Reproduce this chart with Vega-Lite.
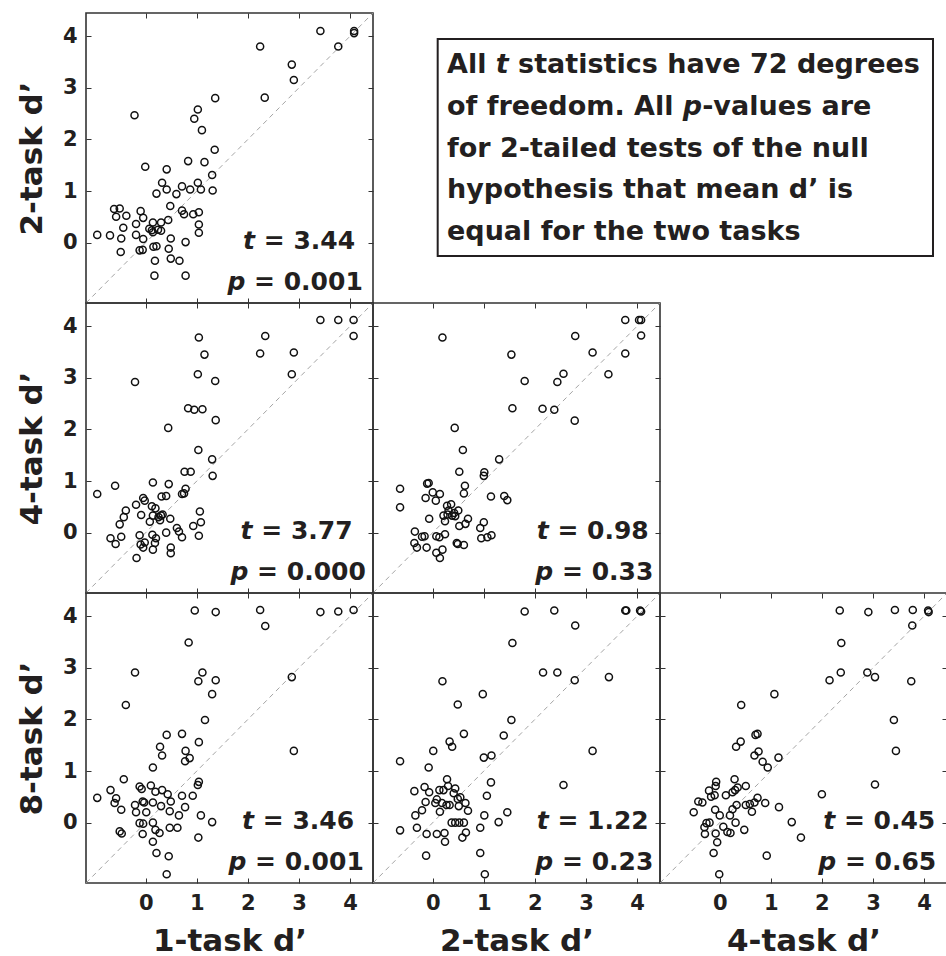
{
"$schema": "https://vega.github.io/schema/vega-lite/v6.json",
"background": "white",
"padding": {"left": 15, "top": 10, "right": 0, "bottom": 0},
"spacing": 0,
"columns": 3,
"bounds": "flush",
"config": {"view": {"stroke": "#333333", "strokeWidth": 1.6}, "concat": {"spacing": 0}},
"datasets": {
"diag": [{"v": -1.17}, {"v": 4.45}],
"p12": [{"x":3.42,"y":4.10},{"x":4.08,"y":4.10},{"x":4.08,"y":4.06},{"x":2.24,"y":3.80},{"x":3.77,"y":3.80},{"x":2.86,"y":3.45},{"x":2.90,"y":3.15},{"x":2.33,"y":2.81},{"x":1.36,"y":2.80},{"x":-0.22,"y":2.47},{"x":1.02,"y":2.58},{"x":0.95,"y":2.40},{"x":1.10,"y":2.18},{"x":1.35,"y":1.80},{"x":-0.01,"y":1.47},{"x":0.41,"y":1.42},{"x":0.83,"y":1.58},{"x":1.15,"y":1.56},{"x":1.30,"y":1.31},{"x":0.32,"y":1.16},{"x":0.71,"y":1.09},{"x":1.02,"y":1.16},{"x":0.21,"y":0.95},{"x":0.41,"y":1.03},{"x":0.60,"y":0.94},{"x":0.87,"y":1.03},{"x":1.08,"y":1.03},{"x":1.31,"y":1.01},{"x":0.48,"y":0.71},{"x":0.71,"y":0.62},{"x":0.75,"y":0.55},{"x":0.93,"y":0.55},{"x":1.04,"y":0.59},{"x":1.04,"y":0.35},{"x":1.04,"y":0.19},{"x":-0.62,"y":0.65},{"x":-0.51,"y":0.66},{"x":-0.58,"y":0.50},{"x":-0.38,"y":0.52},{"x":-0.44,"y":0.29},{"x":-0.95,"y":0.15},{"x":-0.70,"y":0.14},{"x":-0.48,"y":0.08},{"x":-0.49,"y":-0.18},{"x":-0.19,"y":0.36},{"x":-0.10,"y":0.61},{"x":-0.05,"y":0.48},{"x":-0.19,"y":0.15},{"x":-0.05,"y":0.07},{"x":-0.12,"y":-0.15},{"x":-0.06,"y":-0.14},{"x":0.14,"y":0.39},{"x":0.07,"y":0.27},{"x":0.12,"y":0.24},{"x":0.30,"y":0.39},{"x":0.30,"y":0.23},{"x":0.14,"y":0.20},{"x":0.44,"y":0.44},{"x":0.49,"y":0.08},{"x":0.15,"y":-0.08},{"x":0.21,"y":-0.07},{"x":0.45,"y":-0.12},{"x":0.18,"y":-0.35},{"x":0.49,"y":-0.31},{"x":0.66,"y":-0.35},{"x":0.78,"y":0.01},{"x":0.17,"y":-0.64},{"x":0.78,"y":-0.64},{"x":0.24,"y":0.25}],
"p14": [{"x":3.42,"y":4.12},{"x":3.77,"y":4.12},{"x":4.07,"y":4.12},{"x":4.07,"y":3.81},{"x":2.34,"y":3.81},{"x":2.24,"y":3.47},{"x":2.90,"y":3.49},{"x":2.86,"y":3.07},{"x":1.04,"y":3.78},{"x":1.15,"y":3.45},{"x":1.02,"y":3.07},{"x":1.36,"y":2.94},{"x":-0.21,"y":2.92},{"x":0.83,"y":2.41},{"x":0.95,"y":2.38},{"x":1.11,"y":2.39},{"x":1.37,"y":2.18},{"x":0.44,"y":2.03},{"x":1.03,"y":1.60},{"x":1.30,"y":1.42},{"x":1.31,"y":1.10},{"x":0.76,"y":1.18},{"x":0.88,"y":1.18},{"x":-0.95,"y":0.75},{"x":-0.60,"y":0.91},{"x":0.14,"y":0.97},{"x":0.45,"y":0.94},{"x":0.78,"y":0.85},{"x":0.75,"y":0.76},{"x":0.71,"y":0.75},{"x":0.31,"y":0.70},{"x":0.40,"y":0.71},{"x":-0.05,"y":0.67},{"x":-0.02,"y":0.62},{"x":-0.19,"y":0.54},{"x":-0.39,"y":0.43},{"x":-0.43,"y":0.30},{"x":-0.51,"y":0.16},{"x":-0.69,"y":-0.11},{"x":-0.59,"y":-0.22},{"x":-0.48,"y":-0.08},{"x":-0.09,"y":0.34},{"x":0.12,"y":0.51},{"x":0.19,"y":0.47},{"x":0.14,"y":0.33},{"x":0.25,"y":0.30},{"x":0.30,"y":0.33},{"x":0.08,"y":0.21},{"x":0.28,"y":0.24},{"x":0.48,"y":0.27},{"x":-0.12,"y":-0.05},{"x":-0.10,"y":-0.23},{"x":-0.05,"y":-0.29},{"x":-0.02,"y":-0.19},{"x":-0.18,"y":-0.49},{"x":0.13,"y":-0.04},{"x":0.20,"y":-0.11},{"x":0.18,"y":-0.20},{"x":0.14,"y":-0.33},{"x":0.40,"y":0.00},{"x":0.49,"y":-0.29},{"x":0.49,"y":-0.40},{"x":0.61,"y":0.09},{"x":0.65,"y":0.02},{"x":0.71,"y":-0.09},{"x":0.93,"y":0.13},{"x":1.08,"y":0.20},{"x":1.06,"y":0.41},{"x":1.04,"y":-0.06},{"x":0.33,"y":0.35}],
"p18": [{"x":0.96,"y":4.11},{"x":1.37,"y":4.08},{"x":2.24,"y":4.12},{"x":3.42,"y":4.08},{"x":3.77,"y":4.09},{"x":4.07,"y":4.12},{"x":2.34,"y":3.81},{"x":0.84,"y":3.49},{"x":-0.21,"y":2.91},{"x":1.11,"y":2.91},{"x":1.03,"y":2.74},{"x":1.37,"y":2.76},{"x":1.30,"y":2.49},{"x":2.86,"y":2.82},{"x":-0.39,"y":2.28},{"x":1.16,"y":1.99},{"x":0.41,"y":1.70},{"x":0.71,"y":1.72},{"x":0.28,"y":1.47},{"x":0.32,"y":1.30},{"x":0.78,"y":1.39},{"x":0.77,"y":1.19},{"x":0.86,"y":1.25},{"x":1.04,"y":1.56},{"x":2.90,"y":1.39},{"x":0.14,"y":1.07},{"x":-0.43,"y":0.84},{"x":-0.95,"y":0.48},{"x":-0.69,"y":0.63},{"x":-0.58,"y":0.47},{"x":-0.61,"y":0.38},{"x":-0.48,"y":0.25},{"x":-0.12,"y":0.70},{"x":-0.08,"y":0.65},{"x":0.10,"y":0.72},{"x":-0.06,"y":0.41},{"x":-0.03,"y":0.39},{"x":-0.21,"y":0.34},{"x":-0.19,"y":0.20},{"x":0.01,"y":0.20},{"x":0.14,"y":0.39},{"x":0.19,"y":0.60},{"x":0.32,"y":0.63},{"x":0.43,"y":0.55},{"x":0.49,"y":0.41},{"x":0.30,"y":0.32},{"x":0.47,"y":0.22},{"x":0.71,"y":0.52},{"x":0.77,"y":0.30},{"x":0.92,"y":0.52},{"x":1.02,"y":0.73},{"x":1.04,"y":0.79},{"x":0.65,"y":0.14},{"x":1.08,"y":0.14},{"x":1.30,"y":0.01},{"x":-0.12,"y":-0.01},{"x":-0.05,"y":-0.02},{"x":0.14,"y":0.00},{"x":0.19,"y":-0.14},{"x":0.27,"y":-0.20},{"x":0.47,"y":-0.10},{"x":0.62,"y":-0.10},{"x":-0.51,"y":-0.17},{"x":-0.47,"y":-0.21},{"x":-0.06,"y":-0.22},{"x":0.14,"y":-0.37},{"x":1.03,"y":-0.29},{"x":0.21,"y":-0.59},{"x":0.45,"y":-0.65},{"x":0.41,"y":-1.00}],
"p24": [{"x":3.77,"y":4.12},{"x":4.04,"y":4.12},{"x":4.08,"y":4.12},{"x":4.08,"y":3.82},{"x":2.79,"y":3.81},{"x":0.19,"y":3.78},{"x":1.54,"y":3.45},{"x":3.13,"y":3.49},{"x":3.77,"y":3.47},{"x":2.56,"y":3.08},{"x":2.44,"y":2.92},{"x":3.44,"y":3.07},{"x":1.80,"y":2.94},{"x":1.56,"y":2.41},{"x":2.15,"y":2.40},{"x":2.38,"y":2.38},{"x":2.78,"y":2.17},{"x":0.43,"y":2.03},{"x":0.59,"y":1.60},{"x":1.30,"y":1.42},{"x":0.52,"y":1.18},{"x":1.01,"y":1.17},{"x":1.00,"y":1.10},{"x":-0.64,"y":0.85},{"x":-0.64,"y":0.49},{"x":-0.11,"y":0.95},{"x":-0.08,"y":0.96},{"x":0.00,"y":0.78},{"x":0.14,"y":0.75},{"x":-0.14,"y":0.67},{"x":0.06,"y":0.62},{"x":0.63,"y":0.91},{"x":0.61,"y":0.76},{"x":1.14,"y":0.70},{"x":1.40,"y":0.71},{"x":1.46,"y":0.63},{"x":0.28,"y":0.52},{"x":0.36,"y":0.55},{"x":0.50,"y":0.43},{"x":0.21,"y":0.33},{"x":0.29,"y":0.35},{"x":0.38,"y":0.33},{"x":0.42,"y":0.38},{"x":0.24,"y":0.22},{"x":-0.07,"y":0.27},{"x":0.52,"y":0.13},{"x":0.64,"y":0.17},{"x":0.69,"y":0.27},{"x":1.00,"y":0.20},{"x":0.93,"y":0.09},{"x":0.95,"y":-0.11},{"x":1.07,"y":-0.09},{"x":1.15,"y":-0.05},{"x":-0.35,"y":0.02},{"x":-0.16,"y":-0.07},{"x":-0.21,"y":-0.08},{"x":-0.36,"y":-0.20},{"x":-0.31,"y":-0.29},{"x":-0.12,"y":-0.29},{"x":0.07,"y":-0.07},{"x":0.13,"y":-0.09},{"x":0.24,"y":-0.03},{"x":0.47,"y":-0.20},{"x":0.49,"y":-0.22},{"x":0.61,"y":-0.24},{"x":0.07,"y":-0.39},{"x":0.19,"y":-0.33},{"x":0.14,"y":-0.49},{"x":0.31,"y":0.43},{"x":0.44,"y":0.32}],
"p28": [{"x":1.80,"y":4.09},{"x":2.38,"y":4.11},{"x":3.77,"y":4.11},{"x":3.79,"y":4.11},{"x":4.06,"y":4.11},{"x":4.08,"y":4.09},{"x":2.79,"y":3.82},{"x":1.56,"y":3.48},{"x":2.16,"y":2.91},{"x":2.44,"y":2.91},{"x":2.78,"y":2.76},{"x":3.45,"y":2.82},{"x":0.19,"y":2.74},{"x":0.98,"y":2.49},{"x":0.49,"y":2.29},{"x":1.54,"y":1.99},{"x":0.61,"y":1.72},{"x":1.39,"y":1.69},{"x":0.33,"y":1.57},{"x":0.38,"y":1.47},{"x":0.01,"y":1.39},{"x":3.13,"y":1.39},{"x":1.00,"y":1.26},{"x":1.15,"y":1.30},{"x":-0.64,"y":1.19},{"x":-0.08,"y":1.07},{"x":1.14,"y":0.78},{"x":2.56,"y":0.73},{"x":0.28,"y":0.84},{"x":-0.16,"y":0.69},{"x":-0.36,"y":0.61},{"x":-0.07,"y":0.59},{"x":0.13,"y":0.63},{"x":0.21,"y":0.63},{"x":0.30,"y":0.71},{"x":0.44,"y":0.66},{"x":0.41,"y":0.57},{"x":0.54,"y":0.49},{"x":1.06,"y":0.52},{"x":-0.14,"y":0.40},{"x":0.05,"y":0.38},{"x":0.08,"y":0.45},{"x":0.18,"y":0.38},{"x":0.27,"y":0.34},{"x":0.33,"y":0.34},{"x":0.64,"y":0.38},{"x":0.49,"y":0.46},{"x":0.69,"y":0.23},{"x":0.51,"y":0.32},{"x":-0.21,"y":0.24},{"x":-0.34,"y":0.14},{"x":0.14,"y":0.21},{"x":1.01,"y":0.14},{"x":1.46,"y":0.20},{"x":1.29,"y":0.01},{"x":0.37,"y":0.00},{"x":0.44,"y":0.00},{"x":0.52,"y":0.00},{"x":0.61,"y":0.00},{"x":0.93,"y":-0.10},{"x":-0.64,"y":-0.15},{"x":-0.31,"y":-0.10},{"x":-0.12,"y":-0.22},{"x":0.08,"y":-0.22},{"x":0.23,"y":-0.20},{"x":0.24,"y":-0.37},{"x":0.58,"y":-0.29},{"x":0.65,"y":-0.19},{"x":-0.13,"y":-0.64},{"x":0.93,"y":-0.59},{"x":1.02,"y":-1.00}],
"p48": [{"x":2.35,"y":4.11},{"x":2.91,"y":4.08},{"x":3.43,"y":4.12},{"x":3.78,"y":4.12},{"x":4.08,"y":4.11},{"x":4.09,"y":4.08},{"x":3.77,"y":3.82},{"x":2.38,"y":3.48},{"x":2.37,"y":2.91},{"x":2.89,"y":2.91},{"x":3.04,"y":2.82},{"x":2.15,"y":2.76},{"x":3.75,"y":2.74},{"x":1.07,"y":2.49},{"x":0.42,"y":2.28},{"x":3.41,"y":1.99},{"x":3.45,"y":1.39},{"x":3.04,"y":0.74},{"x":2.00,"y":0.55},{"x":0.70,"y":1.70},{"x":0.74,"y":1.72},{"x":0.41,"y":1.57},{"x":0.32,"y":1.47},{"x":0.76,"y":1.38},{"x":0.68,"y":1.30},{"x":0.84,"y":1.18},{"x":0.94,"y":1.07},{"x":1.15,"y":1.26},{"x":-0.07,"y":0.79},{"x":-0.08,"y":0.71},{"x":-0.21,"y":0.62},{"x":-0.10,"y":0.53},{"x":-0.17,"y":0.50},{"x":-0.42,"y":0.41},{"x":-0.34,"y":0.39},{"x":-0.51,"y":0.20},{"x":-0.09,"y":0.25},{"x":0.00,"y":0.14},{"x":0.12,"y":0.53},{"x":0.29,"y":0.84},{"x":0.25,"y":0.59},{"x":0.30,"y":0.63},{"x":0.35,"y":0.68},{"x":0.51,"y":0.71},{"x":0.25,"y":0.26},{"x":0.33,"y":0.34},{"x":0.20,"y":0.14},{"x":0.51,"y":0.34},{"x":0.59,"y":0.36},{"x":0.68,"y":0.39},{"x":0.74,"y":0.48},{"x":0.63,"y":0.21},{"x":0.89,"y":0.38},{"x":1.16,"y":0.30},{"x":1.41,"y":0.01},{"x":1.59,"y":-0.29},{"x":-0.30,"y":-0.09},{"x":-0.26,"y":-0.01},{"x":-0.20,"y":0.00},{"x":-0.29,"y":-0.22},{"x":-0.08,"y":-0.21},{"x":0.07,"y":-0.08},{"x":0.15,"y":-0.18},{"x":0.21,"y":-0.20},{"x":0.31,"y":0.00},{"x":0.48,"y":-0.14},{"x":-0.05,"y":-0.38},{"x":-0.12,"y":-0.59},{"x":0.92,"y":-0.64},{"x":-0.01,"y":-1.00}],
"s12": [{"sym":"t","val":"= 3.44","xs":2.14,"xv":4.10,"y":-0.13},{"sym":"p","val":"= 0.001","xs":1.95,"xv":4.25,"y":-0.92}],
"s14": [{"sym":"t","val":"= 3.77","xs":2.09,"xv":4.05,"y":-0.12},{"sym":"p","val":"= 0.000","xs":2.01,"xv":4.31,"y":-0.91}],
"s18": [{"sym":"t","val":"= 3.46","xs":2.12,"xv":4.08,"y":-0.12},{"sym":"p","val":"= 0.001","xs":1.97,"xv":4.27,"y":-0.91}],
"s24": [{"sym":"t","val":"= 0.98","xs":2.27,"xv":4.23,"y":-0.12},{"sym":"p","val":"= 0.33","xs":2.36,"xv":4.32,"y":-0.91}],
"s28": [{"sym":"t","val":"= 1.22","xs":2.27,"xv":4.23,"y":-0.12},{"sym":"p","val":"= 0.23","xs":2.36,"xv":4.32,"y":-0.91}],
"s48": [{"sym":"t","val":"= 0.45","xs":2.26,"xv":4.22,"y":-0.12},{"sym":"p","val":"= 0.65","xs":2.28,"xv":4.24,"y":-0.91}],
"box": [{"x1":11.27,"x2":97.56,"y1":91.0,"y2":16.2}],
"boxtext": [{"txt":"All","x":12.89,"y":79.3},{"txt":"statistics have 72 degrees","x":25.28,"y":79.3},{"txt":"of freedom. All","x":12.89,"y":64.8},{"txt":"-values are","x":57.34,"y":64.8},{"txt":"for 2-tailed tests of the null","x":12.89,"y":50.3},{"txt":"hypothesis that mean d’ is","x":12.89,"y":36.2},{"txt":"equal for the two tasks","x":12.89,"y":21.7}],
"boxital": [{"txt":"t","x":21.39,"y":79.3},{"txt":"p","x":53.97,"y":64.8}],
"none": []
},
"concat": [
 {"width": 287, "height": 290, "resolve": {"axis": {"x": "independent", "y": "independent"}},
  "layer": [
   {"data": {"name": "diag"}, "mark": {"type": "line", "color": "#9a9a9a", "strokeDash": [5, 4], "strokeWidth": 0.9},
    "encoding": {"x": {"field": "v", "type": "quantitative", "scale": {"domain": [-1.17, 4.45], "nice": false, "zero": false}, "axis": {"orient": "bottom", "values": [0,1,2,3,4], "grid": false, "domain": false, "tickSize": -5, "tickColor": "#333333", "labels": false, "title": null, "minExtent": 0, "maxExtent": 0}},
                 "y": {"field": "v", "type": "quantitative", "scale": {"domain": [-1.17, 4.45], "nice": false, "zero": false}, "axis": {"orient": "left", "values": [0,1,2,3,4], "format": "d", "grid": false, "domain": false, "tickSize": -5, "tickColor": "#333333", "labelFont": "DejaVu Sans", "labelFontWeight": "bold", "labelFontSize": 21, "labelColor": "#231f20", "labelPadding": 14, "labelFlush": false, "labelOverlap": false, "title": "2-task d’", "titleFont": "DejaVu Sans", "titleFontWeight": "bold", "titleFontSize": 31, "titleColor": "#231f20", "titlePadding": 14}}}},
   {"data": {"name": "p12"}, "mark": {"type": "point", "shape": "circle", "filled": false, "color": "#111111", "size": 50, "strokeWidth": 1.5, "opacity": 1},
    "encoding": {"x": {"field": "x", "type": "quantitative", "scale": {"domain": [-1.17, 4.45], "nice": false, "zero": false}, "axis": {"orient": "top", "values": [0,1,2,3,4], "grid": false, "domain": false, "tickSize": -5, "tickColor": "#333333", "labels": false, "title": null, "minExtent": 0, "maxExtent": 0}},
                 "y": {"field": "y", "type": "quantitative", "scale": {"domain": [-1.17, 4.45], "nice": false, "zero": false}, "axis": {"orient": "right", "values": [0,1,2,3,4], "grid": false, "domain": false, "tickSize": -5, "tickColor": "#333333", "labels": false, "title": null, "minExtent": 0, "maxExtent": 0}}}},
   {"data": {"name": "s12"}, "mark": {"type": "text", "align": "right", "baseline": "alphabetic", "font": "DejaVu Sans", "fontWeight": "bold", "fontStyle": "italic", "fontSize": 25, "color": "#231f20"},
    "encoding": {"x": {"field": "xs", "type": "quantitative", "axis": null}, "y": {"field": "y", "type": "quantitative", "axis": null}, "text": {"field": "sym"}}},
   {"data": {"name": "s12"}, "mark": {"type": "text", "align": "right", "baseline": "alphabetic", "font": "DejaVu Sans", "fontWeight": "bold", "fontSize": 25, "color": "#231f20"},
    "encoding": {"x": {"field": "xv", "type": "quantitative", "axis": null}, "y": {"field": "y", "type": "quantitative", "axis": null}, "text": {"field": "val"}}}
  ]},
 {"width": 287, "height": 290, "view": {"stroke": null},
  "layer": [
   {"data": {"name": "box"}, "mark": {"type": "rect", "fill": "white", "stroke": "#231f20", "strokeWidth": 2, "clip": false},
    "encoding": {"x": {"field": "x1", "type": "quantitative", "scale": {"domain": [0, 50], "nice": false, "zero": false}, "axis": null}, "x2": {"field": "x2"},
                 "y": {"field": "y1", "type": "quantitative", "scale": {"domain": [0, 100], "nice": false, "zero": false}, "axis": null}, "y2": {"field": "y2"}}},
   {"data": {"name": "boxtext"}, "mark": {"type": "text", "align": "left", "baseline": "alphabetic", "font": "DejaVu Sans", "fontWeight": "bold", "fontSize": 27, "color": "#231f20", "clip": false},
    "encoding": {"x": {"field": "x", "type": "quantitative", "axis": null}, "y": {"field": "y", "type": "quantitative", "axis": null}, "text": {"field": "txt"}}},
   {"data": {"name": "boxital"}, "mark": {"type": "text", "align": "left", "baseline": "alphabetic", "font": "DejaVu Sans", "fontWeight": "bold", "fontStyle": "italic", "fontSize": 27, "color": "#231f20", "clip": false},
    "encoding": {"x": {"field": "x", "type": "quantitative", "axis": null}, "y": {"field": "y", "type": "quantitative", "axis": null}, "text": {"field": "txt"}}}
  ]},
 {"width": 287, "height": 290, "view": {"stroke": null}, "data": {"name": "none"}, "mark": {"type": "text"}, "encoding": {}},
 {"width": 287, "height": 290, "resolve": {"axis": {"x": "independent", "y": "independent"}},
  "layer": [
   {"data": {"name": "diag"}, "mark": {"type": "line", "color": "#9a9a9a", "strokeDash": [5, 4], "strokeWidth": 0.9},
    "encoding": {"x": {"field": "v", "type": "quantitative", "scale": {"domain": [-1.17, 4.45], "nice": false, "zero": false}, "axis": {"orient": "bottom", "values": [0,1,2,3,4], "grid": false, "domain": false, "tickSize": -5, "tickColor": "#333333", "labels": false, "title": null, "minExtent": 0, "maxExtent": 0}},
                 "y": {"field": "v", "type": "quantitative", "scale": {"domain": [-1.17, 4.45], "nice": false, "zero": false}, "axis": {"orient": "left", "values": [0,1,2,3,4], "format": "d", "grid": false, "domain": false, "tickSize": -5, "tickColor": "#333333", "labelFont": "DejaVu Sans", "labelFontWeight": "bold", "labelFontSize": 21, "labelColor": "#231f20", "labelPadding": 14, "labelFlush": false, "labelOverlap": false, "title": "4-task d’", "titleFont": "DejaVu Sans", "titleFontWeight": "bold", "titleFontSize": 31, "titleColor": "#231f20", "titlePadding": 14}}}},
   {"data": {"name": "p14"}, "mark": {"type": "point", "shape": "circle", "filled": false, "color": "#111111", "size": 50, "strokeWidth": 1.5, "opacity": 1},
    "encoding": {"x": {"field": "x", "type": "quantitative", "scale": {"domain": [-1.17, 4.45], "nice": false, "zero": false}, "axis": {"orient": "top", "values": [0,1,2,3,4], "grid": false, "domain": false, "tickSize": -5, "tickColor": "#333333", "labels": false, "title": null, "minExtent": 0, "maxExtent": 0}},
                 "y": {"field": "y", "type": "quantitative", "scale": {"domain": [-1.17, 4.45], "nice": false, "zero": false}, "axis": {"orient": "right", "values": [0,1,2,3,4], "grid": false, "domain": false, "tickSize": -5, "tickColor": "#333333", "labels": false, "title": null, "minExtent": 0, "maxExtent": 0}}}},
   {"data": {"name": "s14"}, "mark": {"type": "text", "align": "right", "baseline": "alphabetic", "font": "DejaVu Sans", "fontWeight": "bold", "fontStyle": "italic", "fontSize": 25, "color": "#231f20"},
    "encoding": {"x": {"field": "xs", "type": "quantitative", "axis": null}, "y": {"field": "y", "type": "quantitative", "axis": null}, "text": {"field": "sym"}}},
   {"data": {"name": "s14"}, "mark": {"type": "text", "align": "right", "baseline": "alphabetic", "font": "DejaVu Sans", "fontWeight": "bold", "fontSize": 25, "color": "#231f20"},
    "encoding": {"x": {"field": "xv", "type": "quantitative", "axis": null}, "y": {"field": "y", "type": "quantitative", "axis": null}, "text": {"field": "val"}}}
  ]},
 {"width": 287, "height": 290, "resolve": {"axis": {"x": "independent", "y": "independent"}},
  "layer": [
   {"data": {"name": "diag"}, "mark": {"type": "line", "color": "#9a9a9a", "strokeDash": [5, 4], "strokeWidth": 0.9},
    "encoding": {"x": {"field": "v", "type": "quantitative", "scale": {"domain": [-1.17, 4.45], "nice": false, "zero": false}, "axis": {"orient": "bottom", "values": [0,1,2,3,4], "grid": false, "domain": false, "tickSize": -5, "tickColor": "#333333", "labels": false, "title": null, "minExtent": 0, "maxExtent": 0}},
                 "y": {"field": "v", "type": "quantitative", "scale": {"domain": [-1.17, 4.45], "nice": false, "zero": false}, "axis": {"orient": "left", "values": [0,1,2,3,4], "grid": false, "domain": false, "tickSize": -5, "tickColor": "#333333", "labels": false, "title": null, "minExtent": 0, "maxExtent": 0}}}},
   {"data": {"name": "p24"}, "mark": {"type": "point", "shape": "circle", "filled": false, "color": "#111111", "size": 50, "strokeWidth": 1.5, "opacity": 1},
    "encoding": {"x": {"field": "x", "type": "quantitative", "scale": {"domain": [-1.17, 4.45], "nice": false, "zero": false}, "axis": {"orient": "top", "values": [0,1,2,3,4], "grid": false, "domain": false, "tickSize": -5, "tickColor": "#333333", "labels": false, "title": null, "minExtent": 0, "maxExtent": 0}},
                 "y": {"field": "y", "type": "quantitative", "scale": {"domain": [-1.17, 4.45], "nice": false, "zero": false}, "axis": {"orient": "right", "values": [0,1,2,3,4], "grid": false, "domain": false, "tickSize": -5, "tickColor": "#333333", "labels": false, "title": null, "minExtent": 0, "maxExtent": 0}}}},
   {"data": {"name": "s24"}, "mark": {"type": "text", "align": "right", "baseline": "alphabetic", "font": "DejaVu Sans", "fontWeight": "bold", "fontStyle": "italic", "fontSize": 25, "color": "#231f20"},
    "encoding": {"x": {"field": "xs", "type": "quantitative", "axis": null}, "y": {"field": "y", "type": "quantitative", "axis": null}, "text": {"field": "sym"}}},
   {"data": {"name": "s24"}, "mark": {"type": "text", "align": "right", "baseline": "alphabetic", "font": "DejaVu Sans", "fontWeight": "bold", "fontSize": 25, "color": "#231f20"},
    "encoding": {"x": {"field": "xv", "type": "quantitative", "axis": null}, "y": {"field": "y", "type": "quantitative", "axis": null}, "text": {"field": "val"}}}
  ]},
 {"width": 287, "height": 290, "view": {"stroke": null}, "data": {"name": "none"}, "mark": {"type": "text"}, "encoding": {}},
 {"width": 287, "height": 290, "resolve": {"axis": {"x": "independent", "y": "independent"}},
  "layer": [
   {"data": {"name": "diag"}, "mark": {"type": "line", "color": "#9a9a9a", "strokeDash": [5, 4], "strokeWidth": 0.9},
    "encoding": {"x": {"field": "v", "type": "quantitative", "scale": {"domain": [-1.17, 4.45], "nice": false, "zero": false}, "axis": {"orient": "bottom", "values": [0,1,2,3,4], "format": "d", "grid": false, "domain": false, "tickSize": -5, "tickColor": "#333333", "labelFont": "DejaVu Sans", "labelFontWeight": "bold", "labelFontSize": 21, "labelColor": "#231f20", "labelPadding": 14, "labelFlush": false, "labelOverlap": false, "title": "1-task d’", "titleFont": "DejaVu Sans", "titleFontWeight": "bold", "titleFontSize": 31, "titleColor": "#231f20", "titlePadding": 13}},
                 "y": {"field": "v", "type": "quantitative", "scale": {"domain": [-1.17, 4.45], "nice": false, "zero": false}, "axis": {"orient": "left", "values": [0,1,2,3,4], "format": "d", "grid": false, "domain": false, "tickSize": -5, "tickColor": "#333333", "labelFont": "DejaVu Sans", "labelFontWeight": "bold", "labelFontSize": 21, "labelColor": "#231f20", "labelPadding": 14, "labelFlush": false, "labelOverlap": false, "title": "8-task d’", "titleFont": "DejaVu Sans", "titleFontWeight": "bold", "titleFontSize": 31, "titleColor": "#231f20", "titlePadding": 14}}}},
   {"data": {"name": "p18"}, "mark": {"type": "point", "shape": "circle", "filled": false, "color": "#111111", "size": 50, "strokeWidth": 1.5, "opacity": 1},
    "encoding": {"x": {"field": "x", "type": "quantitative", "scale": {"domain": [-1.17, 4.45], "nice": false, "zero": false}, "axis": {"orient": "top", "values": [0,1,2,3,4], "grid": false, "domain": false, "tickSize": -5, "tickColor": "#333333", "labels": false, "title": null, "minExtent": 0, "maxExtent": 0}},
                 "y": {"field": "y", "type": "quantitative", "scale": {"domain": [-1.17, 4.45], "nice": false, "zero": false}, "axis": {"orient": "right", "values": [0,1,2,3,4], "grid": false, "domain": false, "tickSize": -5, "tickColor": "#333333", "labels": false, "title": null, "minExtent": 0, "maxExtent": 0}}}},
   {"data": {"name": "s18"}, "mark": {"type": "text", "align": "right", "baseline": "alphabetic", "font": "DejaVu Sans", "fontWeight": "bold", "fontStyle": "italic", "fontSize": 25, "color": "#231f20"},
    "encoding": {"x": {"field": "xs", "type": "quantitative", "axis": null}, "y": {"field": "y", "type": "quantitative", "axis": null}, "text": {"field": "sym"}}},
   {"data": {"name": "s18"}, "mark": {"type": "text", "align": "right", "baseline": "alphabetic", "font": "DejaVu Sans", "fontWeight": "bold", "fontSize": 25, "color": "#231f20"},
    "encoding": {"x": {"field": "xv", "type": "quantitative", "axis": null}, "y": {"field": "y", "type": "quantitative", "axis": null}, "text": {"field": "val"}}}
  ]},
 {"width": 287, "height": 290, "resolve": {"axis": {"x": "independent", "y": "independent"}},
  "layer": [
   {"data": {"name": "diag"}, "mark": {"type": "line", "color": "#9a9a9a", "strokeDash": [5, 4], "strokeWidth": 0.9},
    "encoding": {"x": {"field": "v", "type": "quantitative", "scale": {"domain": [-1.17, 4.45], "nice": false, "zero": false}, "axis": {"orient": "bottom", "values": [0,1,2,3,4], "format": "d", "grid": false, "domain": false, "tickSize": -5, "tickColor": "#333333", "labelFont": "DejaVu Sans", "labelFontWeight": "bold", "labelFontSize": 21, "labelColor": "#231f20", "labelPadding": 14, "labelFlush": false, "labelOverlap": false, "title": "2-task d’", "titleFont": "DejaVu Sans", "titleFontWeight": "bold", "titleFontSize": 31, "titleColor": "#231f20", "titlePadding": 13}},
                 "y": {"field": "v", "type": "quantitative", "scale": {"domain": [-1.17, 4.45], "nice": false, "zero": false}, "axis": {"orient": "left", "values": [0,1,2,3,4], "grid": false, "domain": false, "tickSize": -5, "tickColor": "#333333", "labels": false, "title": null, "minExtent": 0, "maxExtent": 0}}}},
   {"data": {"name": "p28"}, "mark": {"type": "point", "shape": "circle", "filled": false, "color": "#111111", "size": 50, "strokeWidth": 1.5, "opacity": 1},
    "encoding": {"x": {"field": "x", "type": "quantitative", "scale": {"domain": [-1.17, 4.45], "nice": false, "zero": false}, "axis": {"orient": "top", "values": [0,1,2,3,4], "grid": false, "domain": false, "tickSize": -5, "tickColor": "#333333", "labels": false, "title": null, "minExtent": 0, "maxExtent": 0}},
                 "y": {"field": "y", "type": "quantitative", "scale": {"domain": [-1.17, 4.45], "nice": false, "zero": false}, "axis": {"orient": "right", "values": [0,1,2,3,4], "grid": false, "domain": false, "tickSize": -5, "tickColor": "#333333", "labels": false, "title": null, "minExtent": 0, "maxExtent": 0}}}},
   {"data": {"name": "s28"}, "mark": {"type": "text", "align": "right", "baseline": "alphabetic", "font": "DejaVu Sans", "fontWeight": "bold", "fontStyle": "italic", "fontSize": 25, "color": "#231f20"},
    "encoding": {"x": {"field": "xs", "type": "quantitative", "axis": null}, "y": {"field": "y", "type": "quantitative", "axis": null}, "text": {"field": "sym"}}},
   {"data": {"name": "s28"}, "mark": {"type": "text", "align": "right", "baseline": "alphabetic", "font": "DejaVu Sans", "fontWeight": "bold", "fontSize": 25, "color": "#231f20"},
    "encoding": {"x": {"field": "xv", "type": "quantitative", "axis": null}, "y": {"field": "y", "type": "quantitative", "axis": null}, "text": {"field": "val"}}}
  ]},
 {"width": 287, "height": 290, "resolve": {"axis": {"x": "independent", "y": "independent"}},
  "layer": [
   {"data": {"name": "diag"}, "mark": {"type": "line", "color": "#9a9a9a", "strokeDash": [5, 4], "strokeWidth": 0.9},
    "encoding": {"x": {"field": "v", "type": "quantitative", "scale": {"domain": [-1.17, 4.45], "nice": false, "zero": false}, "axis": {"orient": "bottom", "values": [0,1,2,3,4], "format": "d", "grid": false, "domain": false, "tickSize": -5, "tickColor": "#333333", "labelFont": "DejaVu Sans", "labelFontWeight": "bold", "labelFontSize": 21, "labelColor": "#231f20", "labelPadding": 14, "labelFlush": false, "labelOverlap": false, "title": "4-task d’", "titleFont": "DejaVu Sans", "titleFontWeight": "bold", "titleFontSize": 31, "titleColor": "#231f20", "titlePadding": 13}},
                 "y": {"field": "v", "type": "quantitative", "scale": {"domain": [-1.17, 4.45], "nice": false, "zero": false}, "axis": {"orient": "left", "values": [0,1,2,3,4], "grid": false, "domain": false, "tickSize": -5, "tickColor": "#333333", "labels": false, "title": null, "minExtent": 0, "maxExtent": 0}}}},
   {"data": {"name": "p48"}, "mark": {"type": "point", "shape": "circle", "filled": false, "color": "#111111", "size": 50, "strokeWidth": 1.5, "opacity": 1},
    "encoding": {"x": {"field": "x", "type": "quantitative", "scale": {"domain": [-1.17, 4.45], "nice": false, "zero": false}, "axis": {"orient": "top", "values": [0,1,2,3,4], "grid": false, "domain": false, "tickSize": -5, "tickColor": "#333333", "labels": false, "title": null, "minExtent": 0, "maxExtent": 0}},
                 "y": {"field": "y", "type": "quantitative", "scale": {"domain": [-1.17, 4.45], "nice": false, "zero": false}, "axis": {"orient": "right", "values": [0,1,2,3,4], "grid": false, "domain": false, "tickSize": -5, "tickColor": "#333333", "labels": false, "title": null, "minExtent": 0, "maxExtent": 0}}}},
   {"data": {"name": "s48"}, "mark": {"type": "text", "align": "right", "baseline": "alphabetic", "font": "DejaVu Sans", "fontWeight": "bold", "fontStyle": "italic", "fontSize": 25, "color": "#231f20"},
    "encoding": {"x": {"field": "xs", "type": "quantitative", "axis": null}, "y": {"field": "y", "type": "quantitative", "axis": null}, "text": {"field": "sym"}}},
   {"data": {"name": "s48"}, "mark": {"type": "text", "align": "right", "baseline": "alphabetic", "font": "DejaVu Sans", "fontWeight": "bold", "fontSize": 25, "color": "#231f20"},
    "encoding": {"x": {"field": "xv", "type": "quantitative", "axis": null}, "y": {"field": "y", "type": "quantitative", "axis": null}, "text": {"field": "val"}}}
  ]}
]
}
